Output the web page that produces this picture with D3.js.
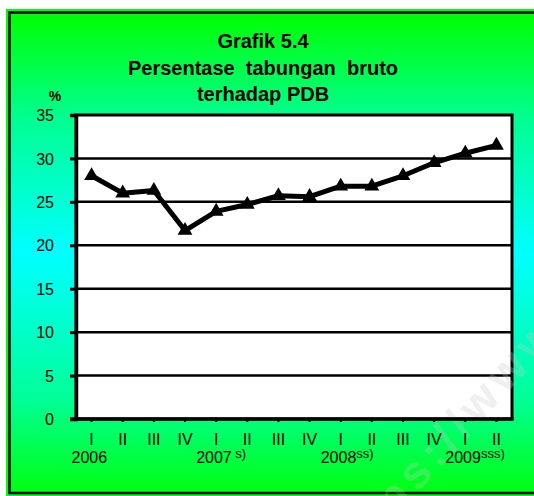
<!DOCTYPE html>
<html lang="id">
<head>
    <meta charset="UTF-8">
    <title>Grafik 5.4</title>
    <script src="https://d3js.org/d3.v7.min.js"></script>
    <style>
        body {
            margin: 0;
            padding: 0;
            background: #fff;
            font-family: "Liberation Sans", Arial, sans-serif;
        }
        svg text {
            font-family: "Liberation Sans", Arial, sans-serif;
            fill: #000;
        }
        .title {
            font-size: 20px;
            font-weight: bold;
            white-space: pre;
        }
        .tick-label {
            font-size: 16px;
        }
    </style>
</head>
<body>
    <svg id="chart" width="534" height="496"></svg>

    <script>
        // Data
        const quarters = ["I", "II", "III", "IV", "I", "II", "III", "IV", "I", "II", "III", "IV", "I", "II"];
        const values = [28.0, 26.0, 26.3, 21.7, 23.9, 24.7, 25.7, 25.6, 26.8, 26.8, 28.0, 29.5, 30.6, 31.5];
        const years = ["2006", "2007", "2008", "2009"];
        const yearNotes = ["", " s)", "ss)", "sss)"];
        const yTicks = [0, 5, 10, 15, 20, 25, 30, 35];
        const titleLines = ["Grafik 5.4", "Persentase  tabungan  bruto", "terhadap PDB"];

        const svg = d3.select("#chart");

        // Plot area
        const plot = { left: 76, right: 512, top: 115, bottom: 419 };

        // Background gradient (green - cyan - green)
        const defs = svg.append("defs");
        const grad = defs.append("linearGradient")
            .attr("id", "bg")
            .attr("x1", 0).attr("y1", 0).attr("x2", 0).attr("y2", 1);
        grad.append("stop").attr("offset", "0%").attr("stop-color", "#00ff00");
        grad.append("stop").attr("offset", "22%").attr("stop-color", "#00ff90");
        grad.append("stop").attr("offset", "50%").attr("stop-color", "#00ffff");
        grad.append("stop").attr("offset", "80%").attr("stop-color", "#00ff99");
        grad.append("stop").attr("offset", "100%").attr("stop-color", "#00ff10");

        svg.append("rect")
            .attr("x", 6).attr("y", 9)
            .attr("width", 540).attr("height", 490)
            .attr("fill", "#00ff00");
        svg.append("rect")
            .attr("x", 9.5).attr("y", 12.5)
            .attr("width", 540).attr("height", 480.5)
            .attr("fill", "url(#bg)")
            .attr("stroke", "#000")
            .attr("stroke-width", 2.5);

        // Scales
        const x = d3.scaleBand()
            .domain(d3.range(values.length))
            .range([plot.left, plot.right]);
        const cx = i => x(i) + x.bandwidth() / 2;

        const y = d3.scaleLinear()
            .domain([0, 35])
            .range([plot.bottom, plot.top]);

        // Plot background
        svg.append("rect")
            .attr("x", plot.left).attr("y", plot.top)
            .attr("width", plot.right - plot.left)
            .attr("height", plot.bottom - plot.top)
            .attr("fill", "#fff");

        // Gridlines
        svg.selectAll(".grid")
            .data(yTicks.slice(1, -1))
            .enter().append("line")
            .attr("x1", plot.left).attr("x2", plot.right)
            .attr("y1", d => y(d)).attr("y2", d => y(d))
            .attr("stroke", "#000")
            .attr("stroke-width", 2.5);

        // Plot border
        svg.append("rect")
            .attr("x", plot.left).attr("y", plot.top)
            .attr("width", plot.right - plot.left)
            .attr("height", plot.bottom - plot.top)
            .attr("fill", "none")
            .attr("stroke", "#000")
            .attr("stroke-width", 3);

        // faint watermark (mostly outside the picture)
        svg.append("text")
            .attr("transform", "translate(343,575) rotate(-48)")
            .attr("font-size", 46)
            .attr("font-weight", "bold")
            .attr("letter-spacing", 6)
            .style("fill", "#c8c8c8")
            .attr("fill-opacity", 0.28)
            .text("https://www.bps.go.id");

        // Y axis
        const yAxis = svg.append("g")
            .attr("transform", `translate(${plot.left},0)`)
            .call(d3.axisLeft(y).tickValues(yTicks).tickSize(6).tickPadding(16));
        yAxis.select(".domain").attr("stroke", "#000").attr("stroke-width", 3.5);
        yAxis.selectAll(".tick line").attr("stroke", "#000").attr("stroke-width", 3);
        yAxis.selectAll(".tick text")
            .attr("class", "tick-label")
            .attr("font-size", null)
            .attr("font-family", null)
            .attr("dy", "0.35em");

        // X axis (quarters)
        const xAxis = svg.append("g")
            .attr("transform", `translate(0,${plot.bottom})`)
            .call(d3.axisBottom(x).tickSize(3).tickPadding(12).tickFormat(i => quarters[i]));
        xAxis.select(".domain").attr("stroke", "#000").attr("stroke-width", 3.5)
            .attr("d", `M${plot.left - 6},0H${plot.right + 1.5}`);
        xAxis.selectAll(".tick line").attr("stroke", "#000").attr("stroke-width", 2);
        xAxis.selectAll(".tick text")
            .attr("class", "tick-label")
            .attr("font-size", null)
            .attr("font-family", null);

        // Years
        const yearText = svg.selectAll(".year")
            .data(years)
            .enter().append("text")
            .attr("class", "tick-label")
            .attr("x", (d, i) => cx(i * 4) - 20)
            .attr("y", 463)
            .style("white-space", "pre");
        yearText.append("tspan").text(d => d);
        yearText.append("tspan")
            .attr("font-size", 13)
            .attr("dy", -5)
            .text((d, i) => yearNotes[i]);

        // Line
        const line = d3.line()
            .x((d, i) => cx(i))
            .y(d => y(d));
        svg.append("path")
            .datum(values)
            .attr("d", line)
            .attr("fill", "none")
            .attr("stroke", "#000")
            .attr("stroke-width", 5)
            .attr("stroke-linejoin", "round");

        // Triangle markers
        const tri = d3.symbol().type(d3.symbolTriangle).size(95);
        svg.selectAll(".marker")
            .data(values)
            .enter().append("path")
            .attr("d", tri)
            .attr("transform", (d, i) => `translate(${cx(i)},${y(d)})`)
            .attr("fill", "#000");

        // Title
        svg.selectAll(".title")
            .data(titleLines)
            .enter().append("text")
            .attr("class", "title")
            .attr("x", 263)
            .attr("y", (d, i) => 48 + i * 26.5)
            .attr("text-anchor", "middle")
            .text(d => d);

        // Unit label
        svg.append("text")
            .attr("x", 55).attr("y", 101)
            .attr("text-anchor", "middle")
            .attr("font-size", 14)
            .attr("font-weight", "bold")
            .text("%");
    </script>
</body>
</html>
